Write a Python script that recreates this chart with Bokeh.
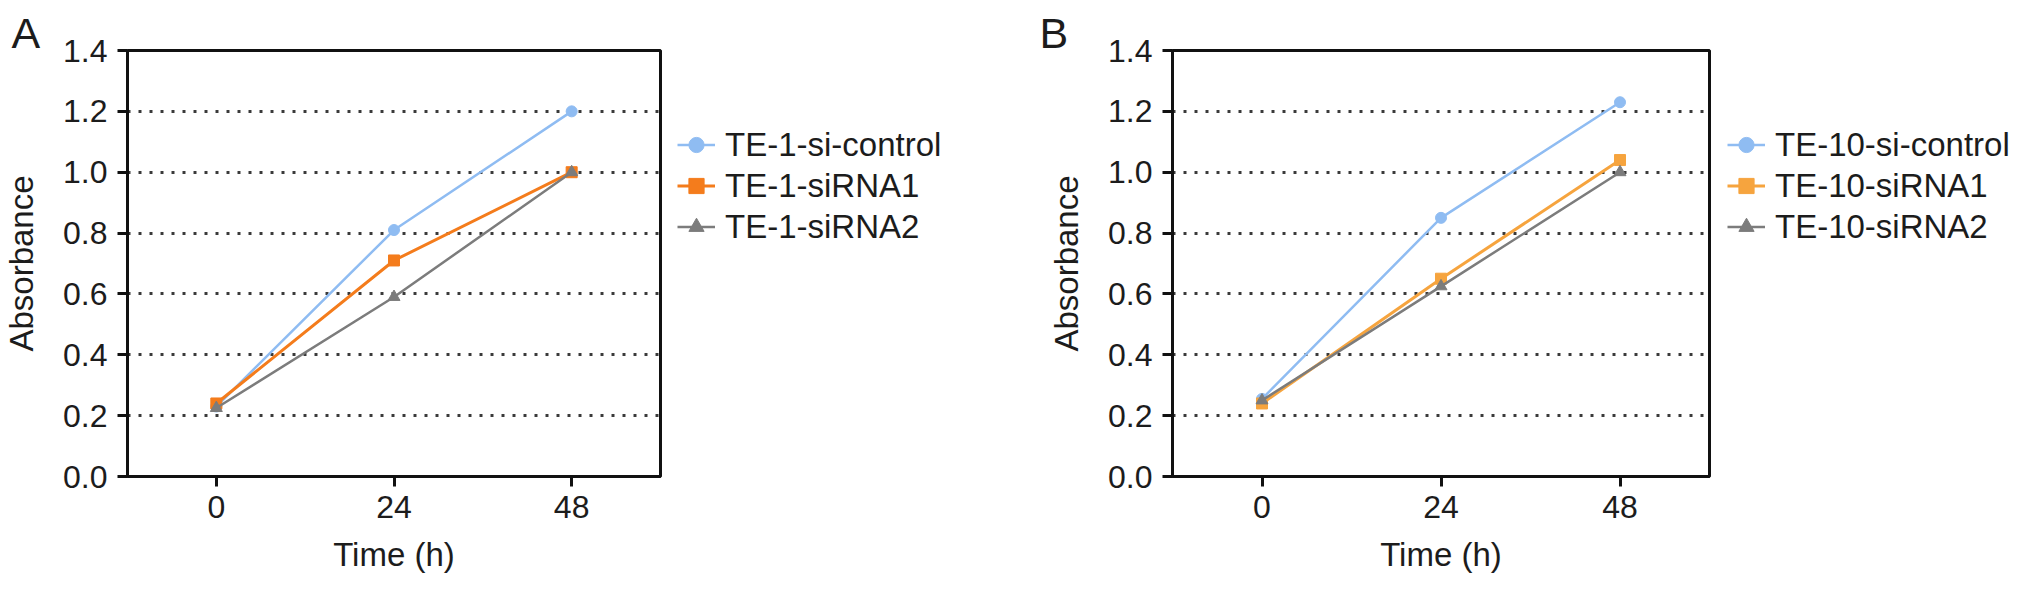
from bokeh.plotting import figure
from bokeh.layouts import row
from bokeh.models import FixedTicker, Legend, LegendItem, Range1d
from bokeh.embed import file_html
from bokeh.resources import INLINE

# ---- data ----
time_h = [0, 24, 48]
x_ticks = [0, 24, 48]
y_ticks = [0.0, 0.2, 0.4, 0.6, 0.8, 1.0, 1.2, 1.4]
grid_ticks = [0.2, 0.4, 0.6, 0.8, 1.0, 1.2]

a_labels = ["TE-1-si-control", "TE-1-siRNA1", "TE-1-siRNA2"]
a_si_control = [0.23, 0.81, 1.20]
a_sirna1 = [0.24, 0.71, 1.00]
a_sirna2 = [0.225, 0.59, 1.00]

b_labels = ["TE-10-si-control", "TE-10-siRNA1", "TE-10-siRNA2"]
b_si_control = [0.255, 0.85, 1.23]
b_sirna1 = [0.24, 0.65, 1.04]
b_sirna2 = [0.25, 0.625, 1.00]

FONT = "Liberation Sans"
TXT = "#1c1c1c"
MARKERS = ["circle", "square", "triangle"]
SIZES = [11, 11, 12]
WIDTHS = [2.5, 3, 2.5]
H = 575
TOP = 50
FRAME_H = 427


def add_series(p, series, colors):
    out = []
    for vals, col, mk, sz, lw in zip(series, colors, MARKERS, SIZES, WIDTHS):
        lr = p.line(time_h, vals, line_color=col, line_width=lw)
        sr = p.scatter(time_h, vals, marker=mk, size=sz, fill_color=col, line_color=col)
        out.append((lr, sr))
    return out


def make_panel(letter, letter_offset, series, colors, width, border_left):
    p = figure(width=width, height=H, output_backend="svg", toolbar_location=None,
               x_range=Range1d(-12, 60), y_range=Range1d(0, 1.4),
               min_border_left=border_left, min_border_right=10,
               min_border_top=TOP, min_border_bottom=H - TOP - FRAME_H)
    p.background_fill_color = "white"
    p.border_fill_color = "white"
    p.outline_line_color = "#111111"
    p.outline_line_width = 3
    p.outline_line_alpha = 1.0

    # panel letter as the plot title
    p.title.text = letter
    p.title.align = "left"
    p.title.offset = letter_offset
    p.title.standoff = -12
    p.title.vertical_align = "bottom"
    p.title.text_font = FONT
    p.title.text_font_size = "43px"
    p.title.text_font_style = "normal"
    p.title.text_color = TXT

    p.xgrid.visible = False
    p.ygrid.ticker = FixedTicker(ticks=grid_ticks)
    p.ygrid.grid_line_color = "#3a3a3a"
    p.ygrid.grid_line_width = 3
    p.ygrid.grid_line_dash = "3 8"

    p.xaxis.ticker = FixedTicker(ticks=x_ticks)
    p.yaxis.ticker = FixedTicker(ticks=y_ticks)
    p.yaxis.major_label_overrides = {t: f"{t:.1f}" for t in y_ticks}
    for ax in (p.xaxis, p.yaxis):
        ax.axis_line_width = 3
        ax.axis_line_color = "#111111"
        ax.major_tick_line_width = 3
        ax.major_tick_line_color = "#111111"
        ax.major_tick_out = 10
        ax.major_tick_in = 0
        ax.minor_tick_line_color = None
        ax.major_label_text_font = FONT
        ax.major_label_text_font_size = "32px"
        ax.major_label_text_color = TXT
        ax.axis_label_text_font = FONT
        ax.axis_label_text_font_size = "33px"
        ax.axis_label_text_font_style = "normal"
        ax.axis_label_text_color = TXT
    p.xaxis.axis_label = "Time (h)"
    p.yaxis.axis_label = "Absorbance"
    p.xaxis.major_label_standoff = 9
    p.xaxis.axis_label_standoff = 15
    p.yaxis.major_label_standoff = 10
    p.yaxis.axis_label_standoff = 20

    add_series(p, series, colors)
    return p


def make_legend_fig(labels, series, colors, width, vx):
    # a frame-only figure that hosts the legend next to the panel
    q = figure(width=width, height=H, output_backend="svg", toolbar_location=None,
               x_range=Range1d(1000, 1001), y_range=Range1d(0, 1.4),
               x_axis_type=None, y_axis_type=None, min_border=0)
    q.outline_line_color = None
    q.background_fill_color = "white"
    q.border_fill_color = "white"
    rs = add_series(q, series, colors)
    items = [LegendItem(label=lab, renderers=[lr, sr]) for lab, (lr, sr) in zip(labels, rs)]
    legend = Legend(items=items, location=(vx, 229), margin=0, padding=0, spacing=0,
                    glyph_width=38, glyph_height=41, label_height=41, label_standoff=10,
                    label_text_font=FONT, label_text_font_size="33px", label_text_color=TXT,
                    border_line_color=None, background_fill_alpha=0)
    q.add_layout(legend, "center")
    return q


a_series = [a_si_control, a_sirna1, a_sirna2]
b_series = [b_si_control, b_sirna1, b_sirna2]
a_colors = ["#8FBCF2", "#F47C1C", "#7C7C7C"]
b_colors = ["#8FBCF2", "#F6A43E", "#7C7C7C"]

pa = make_panel("A", -116, a_series, a_colors, 670, 123)
la = make_legend_fig(a_labels, a_series, a_colors, 346, 7)
pb = make_panel("B", -133, b_series, b_colors, 703, 156)
lb = make_legend_fig(b_labels, b_series, b_colors, 297, 8)

layout = row(pa, la, pb, lb)
open("out.html", "w").write(file_html(layout, INLINE))
